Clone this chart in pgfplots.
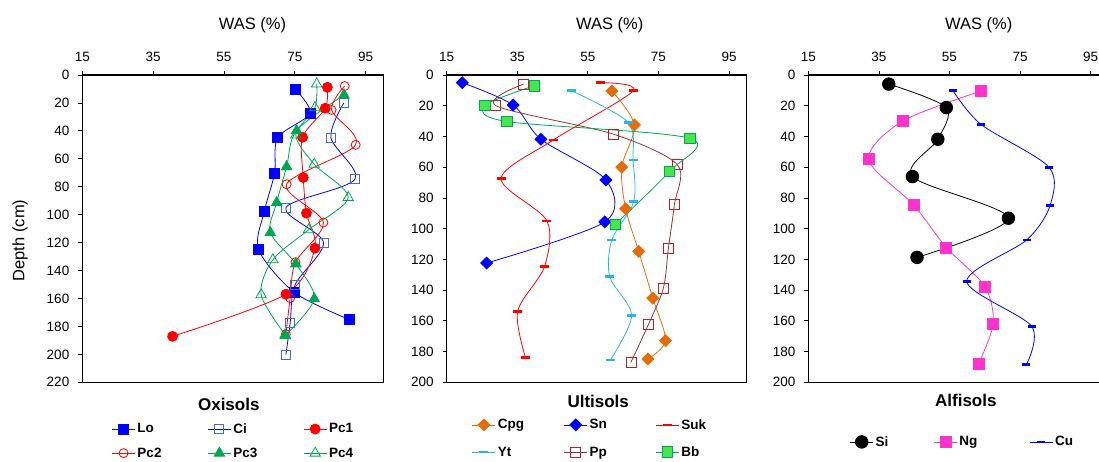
\documentclass[border=0pt]{standalone}
\usepackage{pgfplots}
\pgfplotsset{compat=1.18}
\usepackage{fontspec}
\setmainfont{Liberation Sans}

\definecolor{loblue}{RGB}{0,0,255}
\definecolor{ciblue}{RGB}{70,110,190}
\definecolor{pcred}{RGB}{255,0,0}
\definecolor{pcgreen}{RGB}{0,166,81}
\definecolor{cpgorange}{RGB}{228,108,10}
\definecolor{ytcyan}{RGB}{40,180,235}
\definecolor{ppbrown}{RGB}{190,30,40}
\definecolor{ppline}{RGB}{150,50,50}
\definecolor{bbfill}{RGB}{70,230,80}
\definecolor{ngpink}{RGB}{255,51,204}

\newcommand{\ticksize}{\fontsize{13.5}{16}\selectfont}
\newcommand{\labsize}{\fontsize{16.5}{19}\selectfont}
\newcommand{\legsize}{\fontsize{13.5}{16}\selectfont\bfseries}
\newcommand{\titsize}{\fontsize{17}{20}\selectfont\bfseries}

\pgfplotsset{
  soilaxis/.style={
    scale only axis, width=301pt, height=307.3pt,
    xmin=15, xmax=100, xtick={15,35,55,75,95},
    y dir=reverse, ymin=0,
    xtick pos=right, xticklabel pos=right, ytick pos=left,
    tick align=outside, major tick length=4pt,
    axis line style={line width=1.4pt},
    every tick/.style={black, line width=0.8pt},
    tick label style={font=\ticksize},
    xticklabel style={yshift=5.5pt},
    yticklabel style={xshift=-5.5pt},
    /pgf/number format/assume math mode=true,
    legend columns=3,
    legend cell align=left,
    legend style={draw=none, fill=none, font=\legsize, anchor=center,
      /tikz/every even column/.append style={column sep=0pt}},
    legend image code/.code={\draw[mark repeat=2,mark phase=2]
      plot coordinates {(0pt,0pt)(11.5pt,0pt)(23pt,0pt)};},
    every axis plot/.append style={smooth, line width=0.8pt},
  },
  dashmark/.style={mark=-, mark size=4.5pt, mark options={line width=2.6pt, solid}},
}

\begin{document}
\begin{tikzpicture}

% ---------------- Oxisols ----------------
\begin{axis}[soilaxis, at={(82.3pt,-75pt)}, anchor=north west,
  ymax=220, ytick={0,20,...,220},
  legend style={at={(axis description cs:0.502,-0.191)}, row sep=9pt}]
\addplot[loblue, mark=square*, mark size=5pt, mark options={fill=loblue}] table {
75.1 10.2
79.3 27.4
70.2 44.8
69.3 70.3
66.4 97.7
64.8 125.0
74.9 155.7
90.5 175.2
};
\addlegendentry{\makebox[68pt][l]{Lo}}
\addplot[loblue, mark=square, mark size=4.5pt, mark options={ciblue, line width=0.8pt}] table {
88.9 19.8
85.2 44.8
92.0 74.6
72.5 94.9
83.1 119.9
75.1 150.2
73.7 177.6
72.5 200.2
};
\addlegendentry{\makebox[68pt][l]{Ci}}
\addplot[pcred, mark=*, mark size=5pt, mark options={fill=pcred}] table {
84.2 8.8
83.6 23.8
77.2 44.6
77.4 73.4
78.3 98.9
80.7 124.0
72.5 156.9
40.5 187.1
};
\addlegendentry{Pc1}
\addplot[pcred, mark=o, mark size=4.5pt, mark options={line width=0.8pt}] table {
89.1 7.9
85.4 25.0
92.2 50.0
72.7 78.2
83.1 105.6
75.2 134.0
73.7 159.7
72.5 185.5
};
\addlegendentry{\makebox[68pt][l]{Pc2}}
\addplot[pcgreen, mark=triangle*, mark size=6pt, mark options={fill=pcgreen}] table {
88.9 14.3
75.5 39.8
72.7 65.6
69.9 91.3
68.1 112.8
75.3 135.2
80.5 160.2
72.3 186.6
};
\addlegendentry{\makebox[68pt][l]{Pc3}}
\addplot[pcgreen, mark=triangle, mark size=6pt, mark options={line width=0.8pt}] table {
81.2 6.4
80.7 23.4
75.3 42.9
80.5 63.9
90.1 87.7
78.9 110.8
68.8 132.3
65.5 157.3
72.3 186.0
};
\addlegendentry{Pc4}
\end{axis}

% ---------------- Ultisols ----------------
\begin{axis}[soilaxis, at={(446.7pt,-75pt)}, anchor=north west,
  width=300pt, ymax=200, ytick={0,20,...,200},
  legend style={at={(axis description cs:0.478,-0.183)}, row sep=12pt}]
\addplot[cpgorange, mark=square*, mark size=4.2pt, mark options={rotate=45, fill=cpgorange}] table {
61.8 10.4
68.2 32.5
64.6 60.0
65.7 87.1
69.4 114.8
73.4 145.2
77.0 172.9
72.0 184.8
};
\addlegendentry{\makebox[64pt][l]{Cpg}}
\addplot[loblue, mark=square*, mark size=4.2pt, mark options={rotate=45, fill=loblue}] table {
19.4 5.0
33.8 19.5
41.7 41.8
60.1 68.3
59.8 95.6
26.3 122.4
};
\addlegendentry{\makebox[64pt][l]{Sn}}
\addplot[pcred, dashmark] table {
58.7 5.0
67.9 10.2
45.2 42.3
30.4 67.4
43.4 94.9
42.7 124.8
35.1 153.8
37.3 183.7
};
\addlegendentry{Suk}
\addplot[ytcyan, dashmark] table {
50.3 10.2
66.4 30.8
67.8 55.3
68.0 82.3
61.8 107.3
61.2 131.3
67.4 156.4
61.4 185.5
};
\addlegendentry{\makebox[64pt][l]{Yt}}
\addplot[ppline, mark=square, mark size=5pt, mark options={ppbrown, line width=0.8pt}] table {
36.8 5.9
28.9 19.9
62.1 38.4
80.4 58.5
79.5 84.5
77.8 112.9
76.4 138.7
72.2 162.1
67.2 187.0
};
\addlegendentry{\makebox[64pt][l]{Pp}}
\addplot[pcgreen, mark=square*, mark size=5.3pt, mark options={fill=bbfill, draw=pcgreen}] table {
39.9 6.9
25.8 19.9
32.1 30.3
83.9 41.2
78.1 62.8
62.8 97.1
};
\addlegendentry{Bb}
\end{axis}

% ---------------- Alfisols ----------------
\begin{axis}[soilaxis, at={(808.3pt,-75pt)}, anchor=north west,
  width=300pt, ymax=200, ytick={0,20,...,200},
  legend style={at={(axis description cs:0.514,-0.194)}}]
\addplot[black, mark=*, mark size=6.3pt, mark options={fill=black}] table {
37.8 5.9
54.1 21.2
51.7 41.8
44.5 66.1
71.7 93.2
45.8 118.7
};
\addlegendentry{\makebox[56pt][l]{Si}}
\addplot[ngpink, mark=square*, mark size=5.5pt, mark options={fill=ngpink}] table {
64.0 10.4
41.8 29.9
32.1 54.8
44.8 84.5
54.1 112.2
65.0 137.6
67.4 161.9
63.2 187.9
};
\addlegendentry{\makebox[68pt][l]{Ng}}
\addplot[loblue, dashmark, mark size=4pt] table {
56.0 10.2
63.9 32.1
83.2 60.0
83.5 84.9
76.9 107.3
59.9 134.3
78.3 163.6
76.8 188.5
};
\addlegendentry{Cu}
\end{axis}

% axis titles and group names
\node[font=\labsize] at (252.5pt,-25pt) {WAS (\%)};
\node[font=\labsize] at (609.7pt,-25pt) {WAS (\%)};
\node[font=\labsize] at (978.7pt,-25pt) {WAS (\%)};
\node[font=\labsize, rotate=90] at (20pt,-240.5pt) {Depth (cm)};
\node[font=\titsize] at (228.8pt,-404.5pt) {Oxisols};
\node[font=\titsize] at (598.2pt,-401pt) {Ultisols};
\node[font=\titsize] at (965.8pt,-400.5pt) {Alfisols};

\pgfresetboundingbox
\useasboundingbox (0pt,0pt) rectangle (1099pt,-461pt);
\end{tikzpicture}
\end{document}
